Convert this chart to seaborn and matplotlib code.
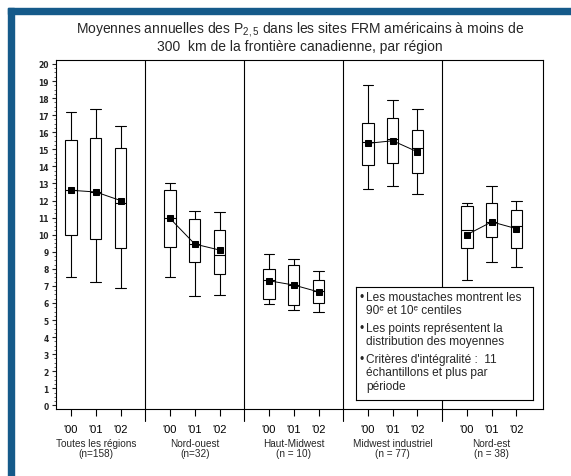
import numpy as np
import pandas as pd
import matplotlib
matplotlib.use("Agg")
import matplotlib.pyplot as plt
from matplotlib.patches import Rectangle
from matplotlib.ticker import MultipleLocator
import seaborn as sns

# Regions, sample sizes and years
regions = ["Toutes les régions", "Nord-ouest", "Haut-Midwest",
           "Midwest industriel", "Nord-est"]
region_counts = ["(n=158)", "(n=32)", "(n = 10)", "(n = 77)", "(n = 38)"]
years = ["'00", "'01", "'02"]

# Box statistics per region (rows) and year (columns), µg/m3
p10 = [[7.5, 7.2, 6.9], [7.5, 6.4, 6.45], [5.95, 5.6, 5.45],
       [12.7, 12.85, 12.4], [7.35, 8.4, 8.1]]
q1 = [[10.0, 9.75, 9.2], [9.3, 8.4, 7.7], [6.25, 5.9, 6.0],
      [14.1, 14.2, 13.6], [9.2, 9.85, 9.2]]
median = [[12.6, 12.5, 11.85], [10.95, 9.45, 8.8], [7.35, 7.05, 6.7],
          [15.45, 15.6, 15.1], [10.25, 10.75, 10.5]]
q3 = [[15.55, 15.65, 15.05], [12.6, 10.9, 10.3], [8.0, 8.2, 7.35],
      [16.55, 16.85, 16.15], [11.65, 11.85, 11.45]]
p90 = [[17.2, 17.35, 16.35], [13.05, 11.4, 11.3], [8.85, 8.6, 7.9],
       [18.75, 17.9, 17.35], [11.85, 12.85, 11.95]]
means = [[12.6, 12.5, 12.0], [10.95, 9.45, 9.1], [7.3, 7.05, 6.65],
         [15.35, 15.5, 14.85], [10.0, 10.75, 10.35]]

legend_lines = [
    ("\u2022", "Les moustaches montrent les\n90\u1d49 et 10\u1d49 centiles"),
    ("\u2022", "Les points représentent la\ndistribution des moyennes"),
    ("\u2022", "Critères d'intégralité :  11\néchantillons et plus par\npériode"),
]

title = ("Moyennes annuelles des P$_{2,5}$ dans les sites FRM américains à moins de\n"
         "300  km de la frontière canadienne, par région")

sns.set_theme(style="ticks")
plt.rcParams["font.family"] = ["Liberation Sans", "DejaVu Sans"]
plt.rcParams["mathtext.fontset"] = "custom"
plt.rcParams["mathtext.rm"] = "Liberation Sans"
plt.rcParams["mathtext.it"] = "Liberation Sans"

GROUP_STEP = 4  # three years plus one empty slot between regions

# long table: five summary values per box, so quartiles/whiskers land on them
rows = []
mean_rows = []
for i, reg in enumerate(regions):
    for j, yr in enumerate(years):
        pos = GROUP_STEP * i + j
        for v in (p10[i][j], q1[i][j], median[i][j], q3[i][j], p90[i][j]):
            rows.append({"pos": pos, "value": v})
        mean_rows.append({"region": reg, "pos": pos, "mean": means[i][j]})
df = pd.DataFrame(rows)
mdf = pd.DataFrame(mean_rows)

fig = plt.figure(figsize=(5.71, 4.77), dpi=100)
fig.patch.set_facecolor("white")

W, H = 571.0, 477.0
blue = "#155a8a"
fig.patches.append(Rectangle((8 / W, 0), 6 / W, (H - 9) / H,
                             transform=fig.transFigure, color=blue, zorder=0))
fig.patches.append(Rectangle((8 / W, 1 - 15 / H), (W - 8) / W, 6 / H,
                             transform=fig.transFigure, color=blue, zorder=0))

ax = fig.add_axes([55.7 / W, 1 - 410 / H, (542.7 - 55.7) / W, (410 - 61) / H])

box_width = 0.46
sns.boxplot(data=df, x="pos", y="value", native_scale=True, orient="x",
            whis=(0, 100), width=box_width, color="white", saturation=1,
            linecolor="black", linewidth=0.8, showfliers=False,
            capwidths=box_width * 0.95, ax=ax)

for reg in regions:
    sub = mdf[mdf["region"] == reg]
    sns.lineplot(data=sub, x="pos", y="mean", color="black", linewidth=0.7,
                 marker="s", markersize=4, markeredgecolor="black",
                 ax=ax, legend=False, zorder=5)

ax.set_xlim(-0.62, 19.06)
ax.set_ylim(-0.21, 20.23)

# separators between regions, running a little below the axis
for i in range(1, len(regions)):
    ax.axvline(GROUP_STEP * i - 1, ymin=-12 / 349, ymax=1, color="black",
               linewidth=0.8, clip_on=False, zorder=1)

positions = [GROUP_STEP * i + j for i in range(len(regions)) for j in range(len(years))]
ax.set_xticks(positions)
ax.set_xticklabels(years * len(regions), fontsize=8)
ax.set_yticks(range(0, 21))
ax.set_yticklabels([str(v) for v in range(0, 21)], fontsize=5.5,
                   fontweight="bold", family="DejaVu Sans")
ax.yaxis.set_minor_locator(MultipleLocator(0.25))
ax.tick_params(axis="x", length=5, width=0.8, pad=6, colors="black")
ax.tick_params(axis="y", which="major", length=3, width=0.8, pad=2)
ax.tick_params(axis="y", which="minor", length=1.5, width=0.5)
ax.set_xlabel("")
ax.set_ylabel("")
for sp in ax.spines.values():
    sp.set_visible(True)
    sp.set_color("black")
    sp.set_linewidth(0.8)

trans = ax.get_xaxis_transform()
for i, (reg, cnt) in enumerate(zip(regions, region_counts)):
    ax.text(GROUP_STEP * i + 1, -0.084, f"{reg}\n{cnt}", transform=trans,
            ha="center", va="top", fontsize=7.2, linespacing=1.0)

fig.text(300 / W, 1 - 20 / H, title, ha="center", va="top", fontsize=10,
         linespacing=1.1)

# note box
lax = fig.add_axes([356 / W, 1 - 401 / H, 177 / W, 113 / H])
lax.set_facecolor("white")
lax.set_xticks([])
lax.set_yticks([])
lax.set_xlim(0, 1)
lax.set_ylim(0, 1)
for sp in lax.spines.values():
    sp.set_color("black")
    sp.set_linewidth(0.8)
tops = [292, 323, 354]
for (bullet, txt), top in zip(legend_lines, tops):
    y = (401 - top) / 113
    lax.text(4 / 177, y, bullet, ha="left", va="top", fontsize=8.6)
    lax.text(10 / 177, y, txt, ha="left", va="top", fontsize=8.6,
             linespacing=1.15)

fig.savefig("out.png", dpi=100, facecolor="white")
